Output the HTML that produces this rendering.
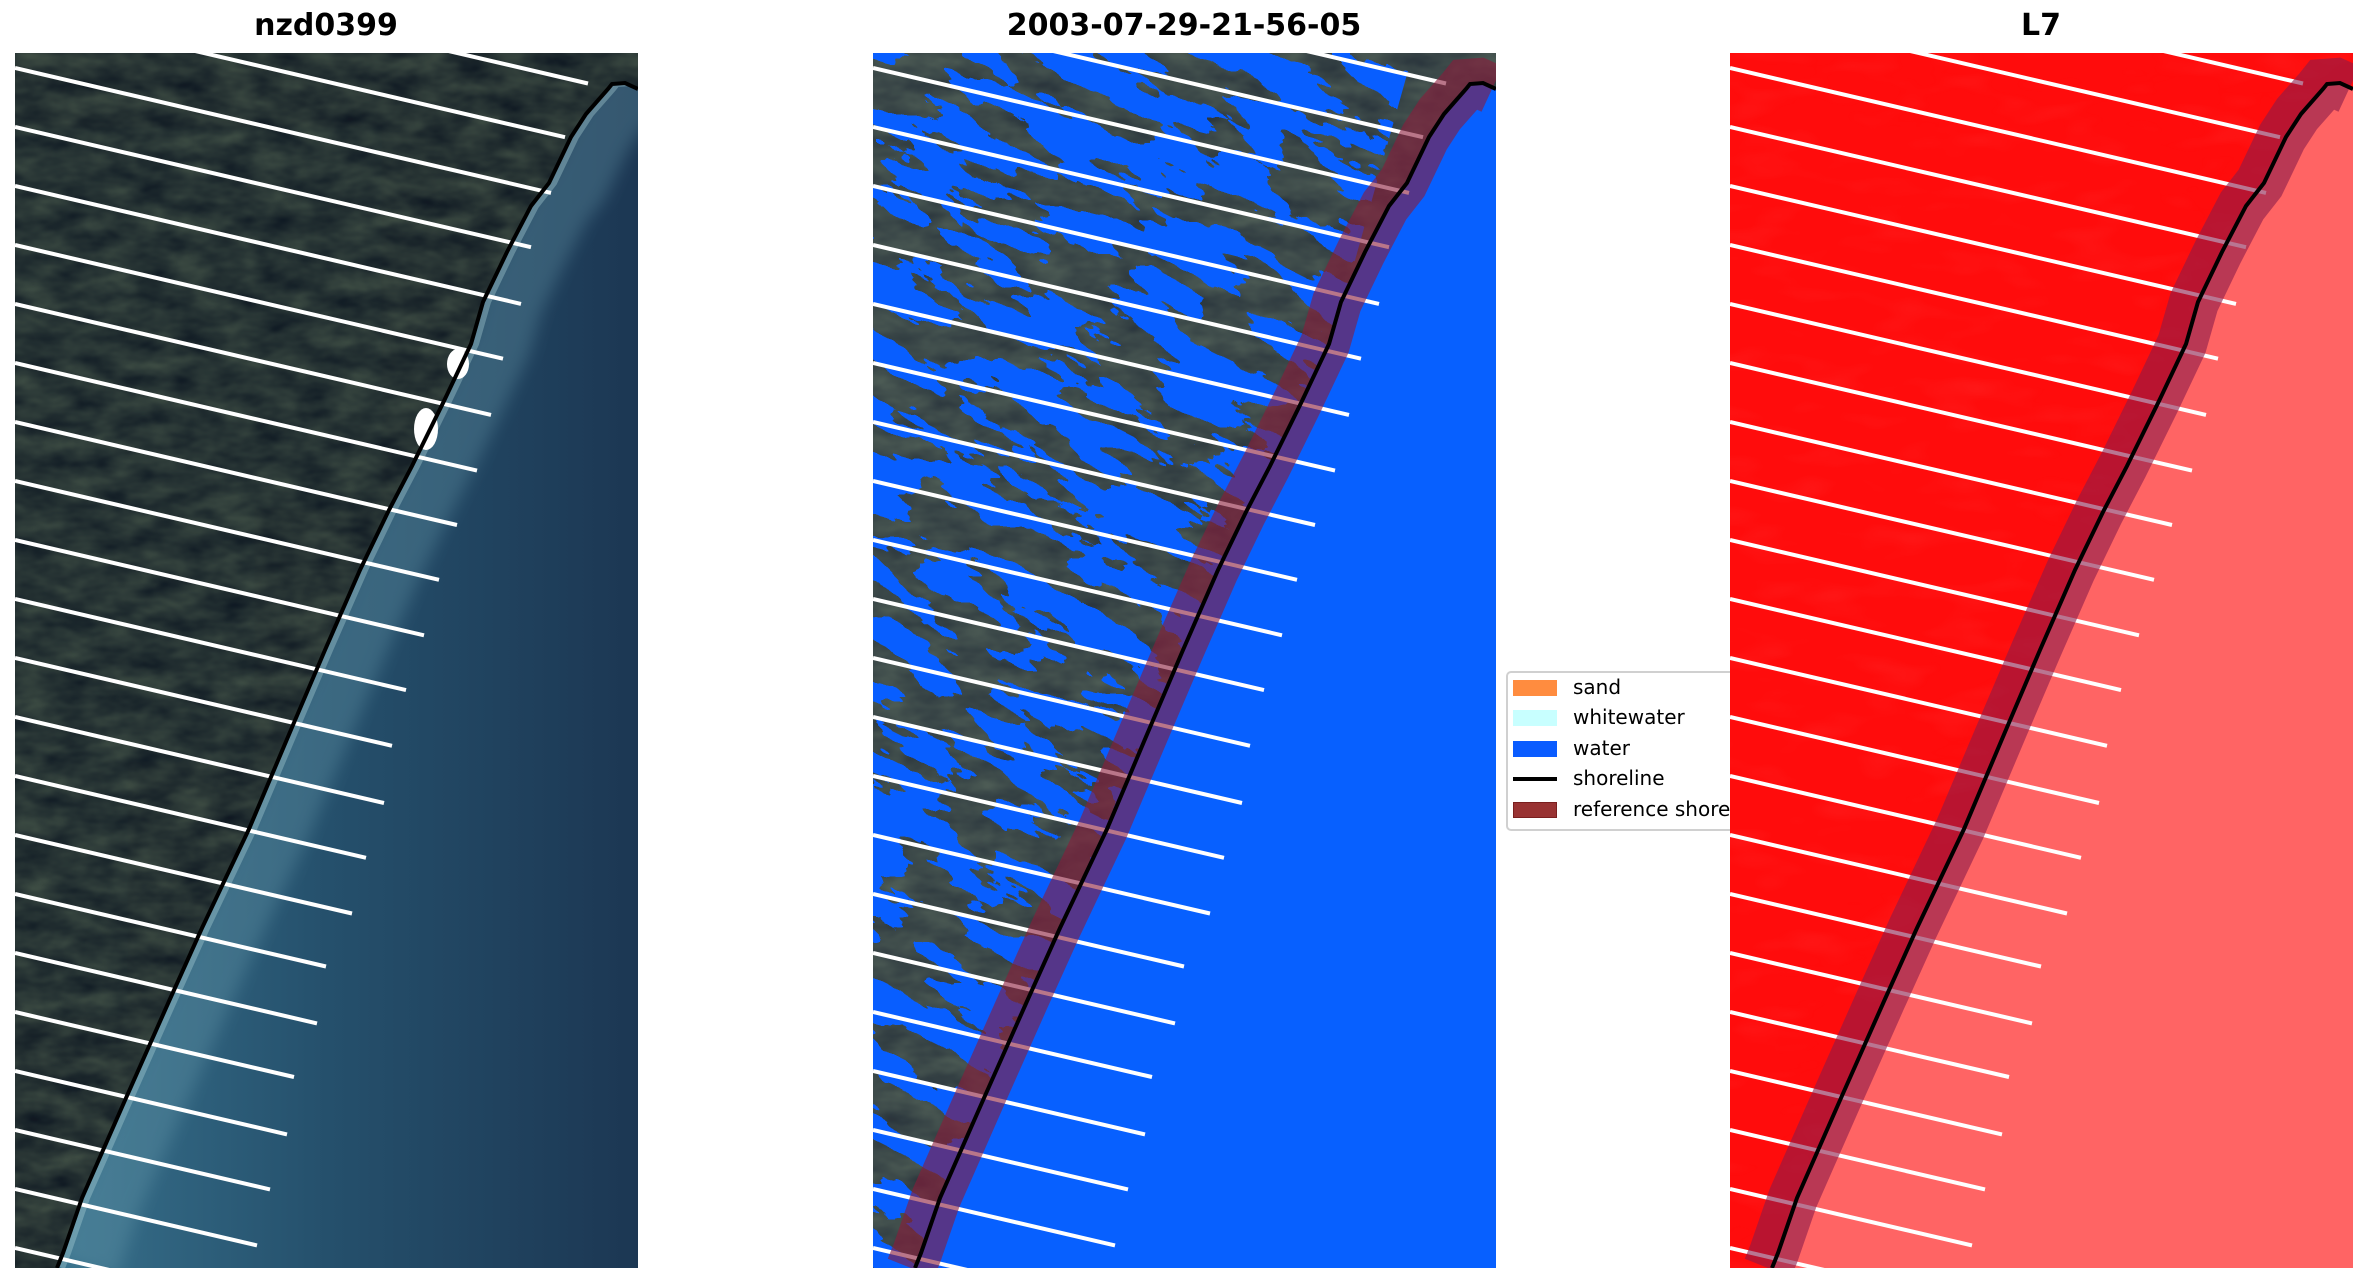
<!DOCTYPE html>
<html><head><meta charset="utf-8">
<style>
html,body{margin:0;padding:0;background:#fff;overflow:hidden;width:2368px;height:1283px;}
#wrap{position:relative;width:2368px;height:1283px;overflow:hidden;background:#fff;}
.t{position:absolute;top:8px;font-family:"DejaVu Sans","Liberation Sans",sans-serif;font-weight:bold;font-size:30px;color:#000;text-align:center;width:700px;}
#legend{position:absolute;left:1506px;top:671px;width:300px;height:156px;border:2px solid #d0d0d0;border-radius:5px;background:#fff;}
.row{position:absolute;left:1573px;font-family:"DejaVu Sans","Liberation Sans",sans-serif;font-size:20px;line-height:20px;}
.pt{position:absolute;left:1513px;width:44px;height:16px;}
svg{position:absolute;left:0;top:0;}
</style></head><body>
<div id="wrap">
<div class="t" style="left:-24px">nzd0399</div>
<div class="t" style="left:834px">2003-07-29-21-56-05</div>
<div class="t" style="left:1691px">L7</div>
<div id="legend"></div>
<div class="pt" style="top:680px;background:#ff8c3f"></div>
<div class="pt" style="top:710px;background:#c8ffff"></div>
<div class="pt" style="top:741px;background:#0a5cff"></div>
<div class="pt" style="top:777px;height:4px;background:#000"></div>
<div class="pt" style="top:802px;background:#993333;box-shadow:inset 0 0 0 1px #7a1f1f"></div>
<div class="row" style="top:677px">sand</div>
<div class="row" style="top:707px">whitewater</div>
<div class="row" style="top:738px">water</div>
<div class="row" style="top:768px">shoreline</div>
<div class="row" style="top:799px">reference shoreline</div>
<svg id="s" width="2368" height="1283" xmlns="http://www.w3.org/2000/svg"></svg>
</div>
<script>
var svg=document.getElementById('s');
var shore=[[623,36],[610,30],[597,31],[593,36],[571,61],[556,84],[534,130],[516,153],[492,199],[468,249],[456,291],[429,348],[397,413],[373,459],[345,517],[310,597],[278,672],[234,776],[187,875],[155,946],[111,1045],[67,1145],[48,1200],[42,1215]];
var shorePts=shore.map(function(p){return p[0]+','+p[1];}).join(' ');
var landPoly='623,0 '+shorePts+' 0,1215 0,0';
var ends=[573,550,536,516,506,488,476,462,442,424,409,391,377,369,351,337,311,302,279,272,255,242,225];
var lines=[];
for(var i=0;i<ends.length;i++){
 var k=i-2, y0=15+59*k, xe=ends[i], ye=y0+0.233*xe;
 lines.push([0,y0,xe,ye]);
}
function linesSVG(){
 var s='';lines.forEach(function(l){s+='<line x1="'+l[0]+'" y1="'+l[1].toFixed(1)+'" x2="'+l[2].toFixed(1)+'" y2="'+l[3].toFixed(1)+'" stroke="#fff" stroke-width="4"/>';});return s;
}
var defs='<defs>'+
'<clipPath id="pc"><rect x="0" y="0" width="623" height="1215"/></clipPath>'+
'<clipPath id="lc"><polygon points="'+landPoly+'"/></clipPath>'+
'<linearGradient id="sea1" x1="0" y1="0" x2="1" y2="0"><stop offset="0" stop-color="#3a7590"/><stop offset="0.5" stop-color="#25506c"/><stop offset="1" stop-color="#1c3753"/></linearGradient>'+
'<filter id="landtex" x="0" y="0" width="623" height="1215" filterUnits="userSpaceOnUse" color-interpolation-filters="sRGB"><feTurbulence type="fractalNoise" baseFrequency="0.025 0.05" numOctaves="3" seed="5"/><feColorMatrix type="matrix" values="0.5 0 0 0 -0.06  0.55 0 0 0 -0.04  0.35 0 0 0 0.0  0 0 0 0 1"/></filter>'+
'<filter id="bluetex" x="-600" y="-600" width="2000" height="2400" filterUnits="userSpaceOnUse" color-interpolation-filters="sRGB"><feTurbulence type="fractalNoise" baseFrequency="0.012 0.035" numOctaves="4" seed="11"/><feColorMatrix type="matrix" values="0 0 0 0 0.03  0 0 0 0 0.37  0 0 0 0 1  1 0 0 0 0"/><feComponentTransfer><feFuncA type="discrete" tableValues="0 0 0 0 0 1 1 1 1 1"/></feComponentTransfer></filter>'+
'<filter id="redtex" x="0" y="0" width="623" height="1215" filterUnits="userSpaceOnUse" color-interpolation-filters="sRGB"><feTurbulence type="fractalNoise" baseFrequency="0.015 0.04" numOctaves="2" seed="7"/><feColorMatrix type="matrix" values="0 0 0 0 1  0 0 0 0 0.4  0 0 0 0 0.4  0.6 0 0 0 -0.3"/></filter>'+
'<filter id="blur6"><feGaussianBlur stdDeviation="8"/></filter>'+
'<clipPath id="bc"><polygon points="0,0 540,0 200,1215 0,1215"/></clipPath>'+
'</defs>';
var html=defs;
// Panel 1
html+='<g transform="translate(15,53)"><g clip-path="url(#pc)">'+
'<rect x="0" y="0" width="623" height="1215" fill="url(#sea1)"/>'+
'<polyline points="'+shorePts+'" transform="translate(30,0)" fill="none" stroke="#6fa3b3" stroke-width="60" opacity="0.3" filter="url(#blur6)"/>'+
'<polyline points="'+shorePts+'" transform="translate(5,0)" fill="none" stroke="#b8dce0" stroke-width="6" opacity="0.35"/>'+
'<g clip-path="url(#lc)"><rect x="0" y="0" width="623" height="1215" fill="#1f2d3a"/><rect x="0" y="0" width="623" height="1215" filter="url(#landtex)" opacity="0.45"/></g>'+
'<ellipse cx="443" cy="311" rx="11" ry="15" fill="#fff"/>'+
'<ellipse cx="411" cy="376" rx="12" ry="21" fill="#fff"/>'+
linesSVG()+
'<polyline points="'+shorePts+'" fill="none" stroke="#000" stroke-width="4"/>'+
'</g></g>';
// Panel 2
html+='<g transform="translate(873,53)"><g clip-path="url(#pc)">'+
'<rect x="0" y="0" width="623" height="1215" fill="#0760ff"/>'+
'<g clip-path="url(#lc)"><rect x="0" y="0" width="623" height="1215" fill="#44525a"/><rect x="0" y="0" width="623" height="1215" filter="url(#landtex)" opacity="0.35"/>'+
'<g clip-path="url(#bc)"><g transform="rotate(28 300 600)"><rect x="-600" y="-600" width="2000" height="2400" filter="url(#bluetex)"/></g></g></g>'+
linesSVG()+
'<polyline points="'+shorePts+'" transform="translate(-4,0)" fill="none" stroke="#8b1a3a" stroke-width="50" opacity="0.6"/>'+
'<polyline points="'+shorePts+'" fill="none" stroke="#000" stroke-width="4"/>'+
'</g></g>';
// Panel 3
html+='<g transform="translate(1730,53)"><g clip-path="url(#pc)">'+
'<rect x="0" y="0" width="623" height="1215" fill="#ff6464"/>'+
'<g clip-path="url(#lc)"><rect x="0" y="0" width="623" height="1215" fill="#ff0c0c"/><rect x="0" y="0" width="623" height="1215" filter="url(#redtex)" opacity="0.5"/></g>'+
linesSVG()+
'<polyline points="'+shorePts+'" transform="translate(-4,0)" fill="none" stroke="#8b1a4a" stroke-width="50" opacity="0.6"/>'+
'<polyline points="'+shorePts+'" fill="none" stroke="#000" stroke-width="4"/>'+
'</g></g>';
svg.innerHTML=html;
</script>
</body></html>
